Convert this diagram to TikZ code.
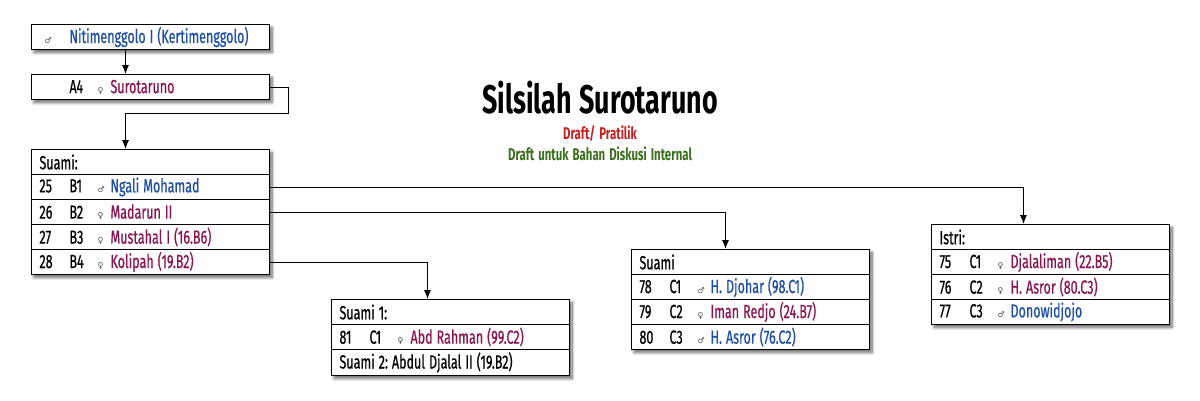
\documentclass[tikz,border=0pt]{standalone}
\usepackage{fontspec}
\setmainfont{Fira Sans}[FakeStretch=0.66, FakeBold=0.6]
\newfontfamily\titlef{Fira Sans}[FakeStretch=0.67]
\newfontfamily\symf{DejaVu Sans}
\usetikzlibrary{shadows,shadows.blur,arrows.meta,calc}
\definecolor{mblue}{HTML}{1E4FA3}
\definecolor{mred}{HTML}{8A1550}
\definecolor{dred}{HTML}{C62121}
\definecolor{dgreen}{HTML}{3B6E1E}
\frenchspacing
\newcommand\Msym{{\symf\fontsize{8}{8}\selectfont\color{black!70}♂}}
\newcommand\Fsym{{\symf\fontsize{8}{8}\selectfont\color{black!70}♀}}
\newcommand\rw[4]{\makebox[30pt][l]{#1}\makebox[28pt][l]{#2}\makebox[13pt][l]{#3}#4}
\newcommand\Mn[1]{\textcolor{mblue}{#1}}
\newcommand\Fn[1]{\textcolor{mred}{#1}}
\newcommand\smallsp{\frenchspacing\spaceskip=4pt plus 1pt minus 1pt\relax}
\newcommand\bigsp{\frenchspacing\spaceskip=8pt plus 1pt minus 1pt\relax}
\begin{document}
\begin{tikzpicture}[x=1pt,y=-1pt,
  font=\fontsize{19}{21}\selectfont,
  rowbox/.style={draw=black, line width=1pt, fill=white, minimum width=238pt, minimum height=25pt,
     anchor=north west, inner xsep=8pt, inner ysep=0pt, text width=222pt, align=left},
  shbox/.style={fill=white, blur shadow={shadow xshift=3pt, shadow yshift=-3.5pt, shadow blur steps=8, shadow blur radius=3pt, shadow opacity=60}},
  conn/.style={draw=black, line width=1pt},
  arr/.style={conn, -{Latex[length=9pt,width=7pt]}}]
\useasboundingbox (0,0) rectangle (1200,400);

% title
\node[anchor=base, font=\titlef\bfseries\fontsize{40}{44}\selectfont] (title) at (600,113) {\bigsp Silsilah Surotaruno};
\node[anchor=base, text=dred, font=\titlef\bfseries\fontsize{17}{19}\selectfont] (sub1) at (600,139) {\smallsp Draft/ Pratilik};
\node[anchor=base, text=dgreen, font=\titlef\bfseries\fontsize{17}{19}\selectfont] (sub2) at (600,160) {\smallsp Draft untuk Bahan Diskusi Internal};

% box 1
\path[shbox] (31,24) rectangle (269,49);
\node[rowbox] (niti) at (31,24) {\smallsp\hspace*{5pt}\makebox[25pt][l]{\Msym}\Mn{Nitimenggolo I (Kertimenggolo)}};
% box 2
\path[shbox] (31,74) rectangle (269,99);
\node[rowbox] (a4) at (31,74) {\smallsp\rw{}{A4}{\Fsym}{\Fn{Surotaruno}}};
% box 3
\path[shbox] (31,149) rectangle (269,274);
\node[rowbox] (s0) at (31,149) {Suami:};
\node[rowbox] (b1) at (31,174) {\smallsp\rw{25}{B1}{\Msym}{\Mn{Ngali Mohamad}}};
\node[rowbox] (b2) at (31,199) {\smallsp\rw{26}{B2}{\Fsym}{\Fn{Madarun II}}};
\node[rowbox] (b3) at (31,224) {\smallsp\rw{27}{B3}{\Fsym}{\Fn{Mustahal I (16.B6)}}};
\node[rowbox] (b4) at (31,249) {\smallsp\rw{28}{B4}{\Fsym}{\Fn{Kolipah (19.B2)}}};
% box suami 1
\path[shbox] (331,299) rectangle (569,375);
\node[rowbox] (u0) at (331,299) {\smallsp Suami 1:};
\node[rowbox] (u1) at (331,324) {\smallsp\rw{81}{C1}{\Fsym}{\Fn{Abd Rahman (99.C2)}}};
\node[rowbox, minimum height=26pt] (u2) at (331,349) {\smallsp Suami 2: Abdul Djalal II (19.B2)};
% box suami middle
\path[shbox] (631,249) rectangle (869,349);
\node[rowbox] (m0) at (631,249) {Suami};
\node[rowbox] (m1) at (631,274) {\smallsp\rw{78}{C1}{\Msym}{\Mn{H. Djohar (98.C1)}}};
\node[rowbox] (m2) at (631,299) {\smallsp\rw{79}{C2}{\Fsym}{\Fn{Iman Redjo (24.B7)}}};
\node[rowbox] (m3) at (631,324) {\smallsp\rw{80}{C3}{\Msym}{\Mn{H. Asror (76.C2)}}};
% box istri
\path[shbox] (931,224) rectangle (1169,324);
\node[rowbox] (i0) at (931,224) {Istri:};
\node[rowbox] (i1) at (931,249) {\smallsp\rw{75}{C1}{\Fsym}{\Fn{Djalaliman (22.B5)}}};
\node[rowbox] (i2) at (931,274) {\smallsp\rw{76}{C2}{\Fsym}{\Fn{H. Asror (80.C3)}}};
\node[rowbox] (i3) at (931,299) {\smallsp\rw{77}{C3}{\Msym}{\Mn{Donowidjojo}}};

% connectors
\draw[arr] ([xshift=-25pt]niti.south) -- ([xshift=-25pt]a4.north);
\coordinate (j1) at ($(a4.east)+(18,26)$);
\draw[arr] (a4.east) -| (j1) -| ([xshift=-25pt]s0.north);
\draw[arr] (b1.east) -| ([xshift=-27pt]i0.north);
\draw[arr] (b2.east) -| ([xshift=-25pt]m0.north);
\draw[arr] (b4.east) -| ([xshift=-23pt]u0.north);
\end{tikzpicture}
\end{document}
